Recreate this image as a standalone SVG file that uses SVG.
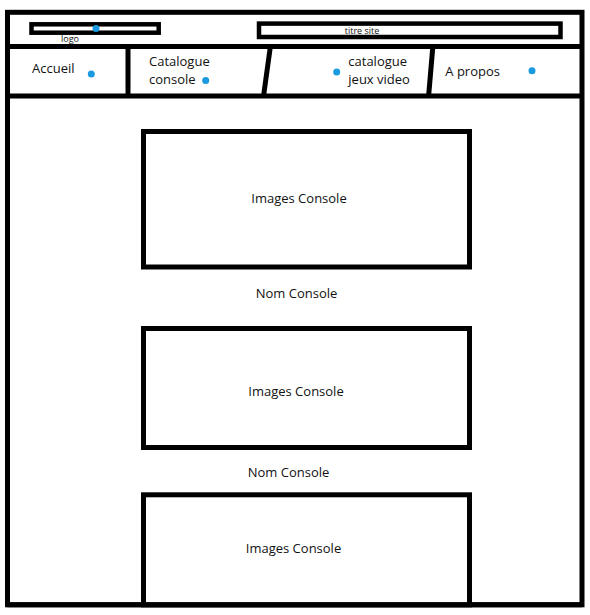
<svg xmlns="http://www.w3.org/2000/svg" width="590" height="615" viewBox="0 0 590 615">
<style>
.ln{stroke:#000;stroke-width:5;fill:none}
.bx{stroke:#000;stroke-width:5;fill:#fff}
.t{font-family:"Open Sans","Noto Sans",sans-serif;font-size:13px;fill:#111}
.s{font-family:"Open Sans","Noto Sans",sans-serif;font-size:9px;fill:#111}
.dot{fill:#1a9be0}
</style>
<rect x="0" y="0" width="590" height="615" fill="#fff"/>
<g id="frame">
<rect class="ln" x="7.5" y="12.3" width="574.5" height="592.5"/>
<line class="ln" x1="7.5" y1="46.5" x2="582" y2="46.5"/>
<line class="ln" x1="7.5" y1="96" x2="582" y2="96"/>
</g>
<g id="header">
<g id="logo">
<rect x="31.5" y="24.3" width="127.2" height="8.4" fill="none" stroke="#000" stroke-width="4.5"/>
<circle class="dot" cx="96" cy="28.5" r="3.5"/>
<text class="s" x="70" y="42" text-anchor="middle">logo</text>
</g>
<g id="titre">
<rect x="259" y="23.6" width="301.5" height="13.4" fill="none" stroke="#000" stroke-width="4.5"/>
<text class="s" x="362" y="34" text-anchor="middle">titre site</text>
</g>
</g>
<g id="nav-dividers">
<line class="ln" x1="128" y1="47" x2="128" y2="95"/>
<line class="ln" x1="270.3" y1="47" x2="263.7" y2="95"/>
<line class="ln" x1="432.8" y1="47" x2="428.7" y2="95"/>
</g>
<g id="nav-accueil">
<text class="t" x="32" y="73">Accueil</text>
<circle class="dot" cx="91.3" cy="74" r="3.5"/>
</g>
<g id="nav-catalogue-console">
<text class="t" x="149" y="66">Catalogue</text>
<text class="t" x="149" y="83.5">console</text>
<circle class="dot" cx="205.7" cy="80.5" r="3.5"/>
</g>
<g id="nav-catalogue-jeux">
<circle class="dot" cx="336.7" cy="72" r="3.5"/>
<text class="t" x="348.3" y="66">catalogue</text>
<text class="t" x="348.3" y="83.5">jeux video</text>
</g>
<g id="nav-apropos">
<text class="t" x="445.3" y="75.5">A propos</text>
<circle class="dot" cx="532" cy="70.7" r="3.5"/>
</g>
<g id="item1">
<rect class="bx" x="143.5" y="131.5" width="326" height="135.5"/>
<text class="t" x="299" y="203" text-anchor="middle">Images Console</text>
</g>
<text id="nom1" class="t" x="296.5" y="297.5" text-anchor="middle">Nom Console</text>
<g id="item2">
<rect class="bx" x="143.5" y="328.5" width="326" height="119"/>
<text class="t" x="296" y="395.5" text-anchor="middle">Images Console</text>
</g>
<text id="nom2" class="t" x="288.5" y="476.5" text-anchor="middle">Nom Console</text>
<g id="item3">
<rect class="bx" x="143.5" y="494.8" width="326" height="110"/>
<text class="t" x="293.5" y="553" text-anchor="middle">Images Console</text>
</g>
<line class="ln" x1="7.5" y1="604.8" x2="582" y2="604.8"/>
</svg>
